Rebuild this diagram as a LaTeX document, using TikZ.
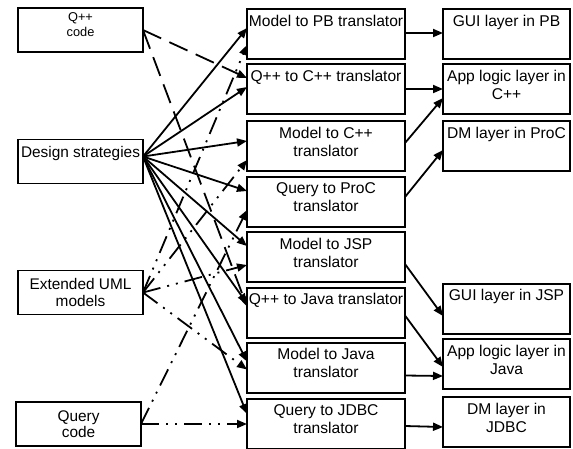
\documentclass[tikz,border=0pt]{standalone}
\usepackage{fontspec}
\setmainfont{Liberation Sans}
\usetikzlibrary{arrows.meta,calc}
\begin{document}
\begin{tikzpicture}[x=1pt,y=-1pt,
  lbox/.style={draw,line width=1.7pt,inner sep=0pt,outer sep=0pt,minimum width=125pt,minimum height=44pt},
  mbox/.style={draw,line width=2pt,inner sep=0pt,outer sep=0pt,minimum width=158pt,minimum height=50pt},
  rbox/.style={draw,line width=2pt,inner sep=0pt,outer sep=0pt,minimum width=127pt,minimum height=50pt},
  txt/.style={anchor=north,inner sep=0pt,align=center,font=\fontsize{15.6pt}{18pt}\selectfont},
  conn/.style={line width=1.8pt,-{Triangle[length=10pt,width=8pt]}},
  dsh/.style={conn,dash pattern=on 20pt off 9pt},
  ddot/.style={conn,dash pattern=on 18pt off 7pt on 2pt off 7pt on 2pt off 7pt}]
\useasboundingbox (0,0) rectangle (573,448);
% left boxes
\node[lbox] (qcode) at (80.5,30) {};
\node[lbox] (dsg) at (80.5,161.5) {};
\node[lbox] (uml) at (80.5,292.5) {};
\node[lbox] (qry) at (78.5,424) {};
% middle boxes
\node[mbox] (mpb) at (326,34) {};
\node[mbox] (qcpp) at (326,89) {};
\node[mbox] (mcpp) at (326,146) {};
\node[mbox] (qproc) at (326,202) {};
\node[mbox] (mjsp) at (326,257) {};
\node[mbox] (qjava) at (326,312.5) {};
\node[mbox] (mjava) at (326,367.5) {};
\node[mbox] (qjdbc) at (326,424) {};
% right boxes
\node[rbox] (gpb) at (506.5,34) {};
\node[rbox] (acpp) at (506.5,89) {};
\node[rbox] (dproc) at (506.5,146) {};
\node[rbox] (gjsp) at (506.5,309) {};
\node[rbox] (ajava) at (506.5,364) {};
\node[rbox] (djdbc) at (506.5,422) {};
% texts
\node[txt,font=\fontsize{12.8pt}{15pt}\selectfont] (tqcode) at ($(qcode.north)+(0,4.5)$) {Q++\\code};
\node[txt,font=\fontsize{15.4pt}{18pt}\selectfont] (tdsg) at ($(dsg.north)+(0,6.5)$) {Design strategies};
\node[txt,font=\fontsize{15.4pt}{17pt}\selectfont] (tuml) at ($(uml.north)+(0,7.5)$) {Extended UML\\models};
\node[txt,font=\fontsize{15.4pt}{16pt}\selectfont] (tqry) at ($(qry.north)+(0,8.5)$) {Query\\code};
\node[txt] (tmpb) at ($(mpb.north)+(0,5.5)$) {Model to PB translator};
\node[txt] (tqcpp) at ($(qcpp.north)+(0,5.5)$) {Q++ to C++ translator};
\node[txt] (tmcpp) at ($(mcpp.north)+(0,5.5)$) {Model to C++\\translator};
\node[txt] (tqproc) at ($(qproc.north)+(0,5.5)$) {Query to ProC\\translator};
\node[txt] (tmjsp) at ($(mjsp.north)+(0,6)$) {Model to JSP\\translator};
\node[txt] (tqjava) at ($(qjava.north)+(0,5.5)$) {Q++ to Java translator};
\node[txt] (tmjava) at ($(mjava.north)+(0,5)$) {Model to Java\\translator};
\node[txt] (tqjdbc) at ($(qjdbc.north)+(0,5.5)$) {Query to JDBC\\translator};
\node[txt] (tgpb) at ($(gpb.north)+(0,5.5)$) {GUI layer in PB};
\node[txt] (tacpp) at ($(acpp.north)+(0,5.5)$) {App logic layer in\\C++};
\node[txt] (tdproc) at ($(dproc.north)+(0,5.5)$) {DM layer in ProC};
\node[txt] (tgjsp) at ($(gjsp.north)+(0,5)$) {GUI layer in JSP};
\node[txt] (tajava) at ($(ajava.north)+(0,6)$) {App logic layer in\\Java};
\node[txt] (tdjdbc) at ($(djdbc.north)+(0,6)$) {DM layer in\\JDBC};
% start points
\coordinate (ds) at ($(dsg.north east)+(0,17)$);
% design strategies
\draw[conn] (ds) -- ($(mpb.north west)+(0,19)$);
\draw[conn] (ds) -- ($(qcpp.north west)+(0,23)$);
\draw[conn] (ds) -- ($(mcpp.north west)+(0,20)$);
\draw[conn] (ds) -- ($(qproc.north west)+(0,14)$);
\draw[conn] (ds) -- ($(mjsp.north west)+(0,14)$);
\draw[conn] (ds) -- ($(qjava.north west)+(0,16)$);
\draw[conn] (ds) -- ($(mjava.north west)+(0,19)$);
\draw[conn] (ds) -- ($(qjdbc.north west)+(0,15)$);
% Q++ code
\draw[dsh] (qcode.east) -- ($(qcpp.north west)+(0,14)$);
\draw[dsh] (qcode.east) -- ($(qjava.north west)+(0,19)$);
% Extended UML
\draw[ddot] (uml.east) -- ($(mpb.north west)+(0,36)$);
\draw[ddot] (uml.east) -- ($(mcpp.north west)+(0,39)$);
\draw[ddot] (uml.east) -- ($(mjsp.north west)+(0,33)$);
\draw[ddot] (uml.east) -- ($(mjava.north west)+(0,27)$);
% Query code
\draw[ddot] (qry.east) -- ($(qproc.north west)+(0,33)$);
\draw[ddot] (qry.east) -- ($(qjdbc.north west)+(0,25)$);
% middle to right
\draw[conn] ($(mpb.north east)+(0,24)$) -- ($(gpb.north west)+(0,24)$);
\draw[conn] ($(qcpp.north east)+(0,25)$) -- ($(acpp.north west)+(0,25)$);
\draw[conn] ($(mcpp.north east)+(0,22)$) -- ($(acpp.north west)+(0,34)$);
\draw[conn] ($(qproc.north east)+(0,20)$) -- ($(dproc.north west)+(0,29)$);
\draw[conn] ($(mjsp.north east)+(0,32)$) -- ($(gjsp.north west)+(0,32)$);
\draw[conn] ($(qjava.north east)+(0,28)$) -- ($(ajava.north west)+(0,28)$);
\draw[conn] ($(mjava.north east)+(0,33)$) -- ($(ajava.north west)+(0,37)$);
\draw[conn] ($(qjdbc.north east)+(0,27)$) -- ($(djdbc.north west)+(0,30)$);
\end{tikzpicture}
\end{document}
